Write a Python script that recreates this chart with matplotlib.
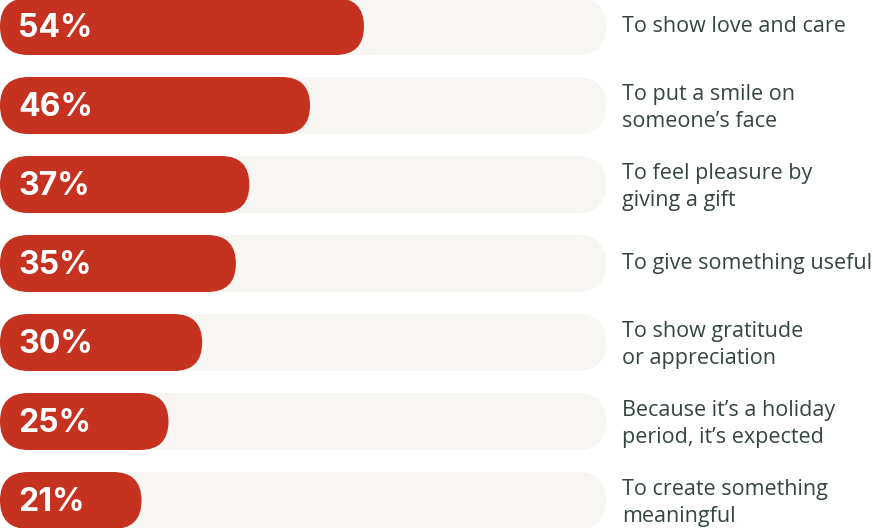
import matplotlib.pyplot as plt
from matplotlib.patches import FancyBboxPatch

# dados
valores = [54, 46, 37, 35, 30, 25, 21]
rotulos = [
    "To show love and care",
    "To put a smile on\nsomeone\u2019s face",
    "To feel pleasure by\ngiving a gift",
    "To give something useful",
    "To show gratitude\nor appreciation",
    "Because it\u2019s a holiday\nperiod, it\u2019s expected",
    "To create something\nmeaningful",
]

# layout em pixels
LARGURA, ALTURA = 877, 528
TOPO = 26.5          # centro da primeira barra
PASSO = 79           # distância entre barras
ALT_BARRA = 57
FIM_TRILHA = 606
PX_POR_PCT = 6.74
MIN_BARRA = 126
X_TEXTO = 622

VERMELHO = "#c5321f"
TRILHA = "#f8f6f2"
COR_TEXTO = "#364540"

fig = plt.figure(figsize=(LARGURA / 100, ALTURA / 100), dpi=100)
ax = fig.add_axes([0, 0, 1, 1])
ax.set_xlim(0, LARGURA)
ax.set_ylim(ALTURA, 0)
ax.axis('off')

for i, (v, rot) in enumerate(zip(valores, rotulos)):
    yc = TOPO + i * PASSO
    y0 = yc - ALT_BARRA / 2
    r = ALT_BARRA / 2

    # trilha de fundo
    ax.add_patch(FancyBboxPatch((0, y0), FIM_TRILHA, ALT_BARRA,
                                boxstyle=f"round,pad=0,rounding_size={r}",
                                fc=TRILHA, ec='none'))
    # barra vermelha
    comp = max(v * PX_POR_PCT, MIN_BARRA)
    ax.add_patch(FancyBboxPatch((0, y0), comp, ALT_BARRA,
                                boxstyle=f"round,pad=0,rounding_size={r}",
                                fc=VERMELHO, ec='none'))

    ax.text(18, yc + 2, f"{v}%", color='white', fontsize=23, fontweight='bold',
            family='Inter', va='center', ha='left')
    # textos com duas linhas ficam um pouco mais baixos
    desloc = 2.5 if "\n" in rot else 0
    ax.text(X_TEXTO, yc + desloc, rot, color=COR_TEXTO, fontsize=15.5,
            family='Open Sans', va='center', ha='left', linespacing=1.38)

fig.savefig("out.png", dpi=100)
